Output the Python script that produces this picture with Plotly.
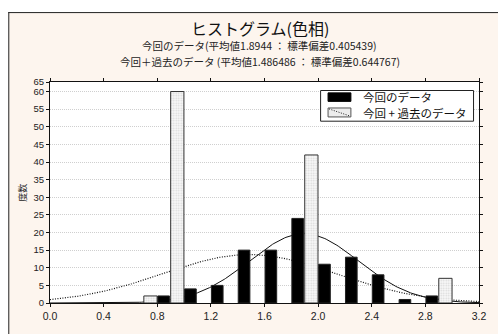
import math
import plotly.graph_objects as go

# ---- data -------------------------------------------------------------
bin_starts = [0.8, 1.0, 1.2, 1.4, 1.6, 1.8, 2.0, 2.2, 2.4, 2.6, 2.8, 3.0]
current_counts = [2, 4, 5, 15, 15, 24, 11, 13, 8, 1, 2, 0]
combined_counts = [2, 60, 0, 0, 0, 0, 42, 0, 0, 0, 0, 7]

current_mean, current_sd = 1.8944, 0.405439
combined_mean, combined_sd = 1.486486, 0.644767
bin_width = 0.2

x_tick_vals = [0.0, 0.4, 0.8, 1.2, 1.6, 2.0, 2.4, 2.8, 3.2]
y_tick_vals = [0, 5, 10, 15, 20, 25, 30, 35, 40, 45, 50, 55, 60]
y_top_label = "65"

title_text = "ヒストグラム(色相)"
sub1_text = "今回のデータ(平均値1.8944 ： 標準偏差0.405439)"
sub2_text = "今回＋過去のデータ (平均値1.486486 ： 標準偏差0.644767)"
legend_names = ["今回のデータ", "今回 + 過去のデータ"]
y_title = "度数"

# ---- geometry ---------------------------------------------------------
W, H = 498, 334
L, R, T, B = 50, 16, 82, 18
Y_MAX = 62.7
PLOT_W, PLOT_H = W - L - R, H - T - B


def px(xp):
    return (xp - L) / PLOT_W


def py(yp):
    return (H - B - yp) / PLOT_H


JP = "Noto Sans CJK JP, Liberation Sans, sans-serif"
NUM = "Liberation Sans, Arial, sans-serif"
BEIGE = "#fdf5ee"


def normal_fit(mean, sd, n, xs):
    k = n * bin_width / (sd * math.sqrt(2 * math.pi))
    return [k * math.exp(-0.5 * ((x - mean) / sd) ** 2) for x in xs]


curve_x = [i * 0.01 for i in range(0, 321)]
curve_cur = normal_fit(current_mean, current_sd, sum(current_counts), curve_x)
curve_all = normal_fit(combined_mean, combined_sd, sum(combined_counts), curve_x)

fig = go.Figure()

# fitted curves (drawn on the base axis so the bars sit over them)
fig.add_trace(go.Scatter(x=curve_x, y=curve_cur, mode="lines",
                         line=dict(color="#111", width=1),
                         showlegend=False, hoverinfo="skip"))
fig.add_trace(go.Scatter(x=curve_x, y=curve_all, mode="lines",
                         line=dict(color="#111", width=1.2, dash="1px,1.5px"),
                         showlegend=False, hoverinfo="skip"))

# histogram bars on an overlaid axis
fig.add_trace(go.Bar(
    x=bin_starts, y=[v if v else None for v in combined_counts],
    width=0.099, offset=-0.1, yaxis="y2",
    marker=dict(color="#f4f4f4",
                line=dict(color="#333", width=1),
                pattern=dict(shape=".", fgcolor="#b4b4b4", bgcolor="#fafafa",
                             size=2.5, solidity=0.4)),
    name=legend_names[1], showlegend=False))
fig.add_trace(go.Bar(
    x=bin_starts, y=[v if v else None for v in current_counts],
    width=0.087, offset=0.004, yaxis="y2",
    marker=dict(color="#000", line=dict(color="#222", width=1)),
    name=legend_names[0], showlegend=False))

shapes = []
# outer frame: white strip top/left, dark border line
shapes.append(dict(type="rect", xref="paper", yref="paper",
                   x0=px(-20), x1=px(W + 20), y0=py(8), y1=py(-20),
                   fillcolor="white", line=dict(width=0), layer="below"))
shapes.append(dict(type="rect", xref="paper", yref="paper",
                   x0=px(-20), x1=px(8), y0=py(H + 20), y1=py(-20),
                   fillcolor="white", line=dict(width=0), layer="below"))
shapes.append(dict(type="line", xref="paper", yref="paper",
                   x0=px(8), x1=px(W + 20), y0=py(8.5), y1=py(8.5),
                   line=dict(color="#222", width=1)))
shapes.append(dict(type="line", xref="paper", yref="paper",
                   x0=px(8.5), x1=px(8.5), y0=py(8), y1=py(H + 20),
                   line=dict(color="#222", width=1)))

# legend box
shapes.append(dict(type="rect", xref="paper", yref="paper",
                   x0=px(322.5), x1=px(476.5), y0=py(123.5), y1=py(91),
                   fillcolor="white", line=dict(color="#222", width=1)))
shapes.append(dict(type="rect", xref="paper", yref="paper",
                   x0=px(330), x1=px(353), y0=py(102.5), y1=py(93.5),
                   fillcolor="#000", line=dict(color="#000", width=1)))
shapes.append(dict(type="rect", xref="paper", yref="paper",
                   x0=px(330), x1=px(353), y0=py(119), y1=py(109.5),
                   fillcolor="#ececec", line=dict(color="#555", width=1)))
shapes.append(dict(type="line", xref="paper", yref="paper",
                   x0=px(331), x1=px(352), y0=py(110.5), y1=py(118),
                   line=dict(color="#222", width=1, dash="1px,1.5px")))

annotations = [
    dict(text=title_text, x=px(261), y=py(25), xref="paper", yref="paper",
         showarrow=False, font=dict(family=JP, size=16, color="#111"),
         xanchor="center", yanchor="middle"),
    dict(text=sub1_text, x=px(261), y=py(43), xref="paper", yref="paper",
         showarrow=False, font=dict(family=JP, size=10.5, color="#222"),
         xanchor="center", yanchor="middle"),
    dict(text=sub2_text, x=px(261), y=py(60.5), xref="paper", yref="paper",
         showarrow=False, font=dict(family=JP, size=10.5, color="#222"),
         xanchor="center", yanchor="middle"),
    dict(text=y_title, x=px(22), y=py(199), xref="paper", yref="paper",
         showarrow=False, textangle=-90,
         font=dict(family=JP, size=9, color="#222"),
         xanchor="center", yanchor="middle"),
    dict(text=legend_names[0], x=px(363), y=py(98), xref="paper", yref="paper",
         showarrow=False, font=dict(family=JP, size=11.5, color="#111"),
         xanchor="left", yanchor="middle"),
    dict(text=legend_names[1], x=px(363), y=py(114.5), xref="paper", yref="paper",
         showarrow=False, font=dict(family=JP, size=11.5, color="#111"),
         xanchor="left", yanchor="middle"),
]

fig.update_layout(
    width=W, height=H,
    margin=dict(l=L, r=R, t=T, b=B, pad=0),
    paper_bgcolor=BEIGE, plot_bgcolor="white",
    barmode="overlay", showlegend=False,
    shapes=shapes, annotations=annotations,
    xaxis=dict(range=[0, 3.2], tickvals=x_tick_vals,
               ticktext=[f"{v:.1f}" for v in x_tick_vals],
               showgrid=False, zeroline=False,
               showline=True, linecolor="#111", linewidth=1, mirror="ticks",
               ticks="outside", ticklen=3, tickcolor="#111",
               tickfont=dict(family=NUM, size=10.5, color="#222")),
    yaxis=dict(range=[0, Y_MAX], tickvals=y_tick_vals + [Y_MAX],
               ticktext=[str(v) for v in y_tick_vals] + [y_top_label],
               showgrid=True, gridcolor="#cfcfcf", griddash="1px,1px", gridwidth=1,
               zeroline=False,
               showline=True, linecolor="#111", linewidth=1, mirror="ticks",
               ticks="outside", ticklen=3, tickcolor="#111",
               tickfont=dict(family=NUM, size=9.5, color="#222")),
    yaxis2=dict(range=[0, Y_MAX], overlaying="y", visible=False,
                showgrid=False, zeroline=False),
)

fig.write_html("out.html")
